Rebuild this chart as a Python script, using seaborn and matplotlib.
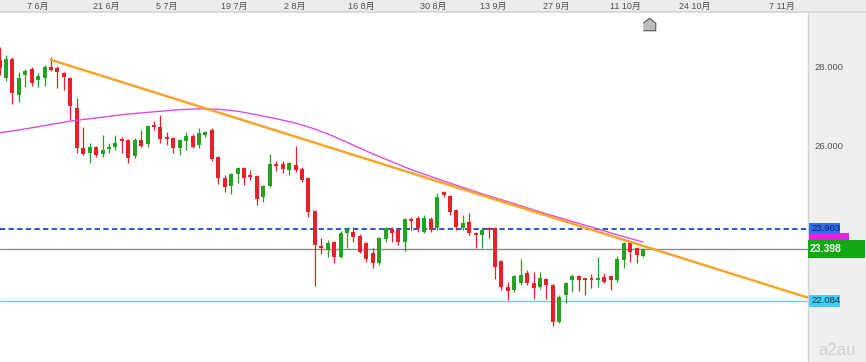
import numpy as np
import pandas as pd
import matplotlib
matplotlib.use("Agg")
import matplotlib.pyplot as plt
import matplotlib.transforms as mtransforms
from matplotlib.patches import Rectangle
import seaborn as sns

# daily candles (index 0 = first visible bar)
opens = [28.18, 27.72, 28.20, 27.29, 27.80, 27.95, 27.67, 27.72, 28.00, 27.97,
         27.85, 27.72, 26.96, 25.95, 25.82, 25.97, 25.80, 25.92, 25.97, 26.18,
         26.15, 25.75, 26.15, 26.05, 26.53, 26.48, 26.23, 26.20, 25.95, 26.13,
         26.25, 26.03, 26.28, 26.41, 25.72, 25.19, 24.99, 25.29, 25.44, 25.27,
         25.24, 24.71, 24.99, 25.54, 25.54, 25.39, 25.52, 25.42, 25.19, 24.35,
         23.47, 23.37, 23.57, 23.19, 23.80, 23.82, 23.72, 23.54, 23.29, 23.04,
         23.65, 23.90, 23.87, 23.57, 24.15, 24.18, 23.82, 24.15, 23.92, 24.84,
         24.73, 24.38, 23.92, 24.08, 23.80, 23.75, 23.92, 23.92, 23.09, 22.43,
         22.35, 22.53, 22.78, 22.53, 22.43, 22.63, 22.48, 21.54, 22.23, 22.61,
         22.71, 22.66, 22.66, 22.61, 22.68, 22.71, 22.61, 23.11, 23.54, 23.41,
         23.22]
highs = [28.50, 28.30, 28.25, 27.87, 27.95, 28.00, 27.85, 28.05, 28.25, 28.03,
         27.87, 27.75, 27.22, 26.48, 26.08, 26.00, 26.28, 26.08, 26.28, 26.23,
         26.18, 26.20, 26.41, 26.53, 26.63, 26.78, 26.35, 26.23, 26.18, 26.35,
         26.30, 26.46, 26.38, 26.46, 25.75, 25.27, 25.32, 25.47, 25.47, 25.39,
         25.27, 25.01, 25.80, 25.62, 25.62, 25.59, 26.00, 25.47, 25.22, 24.38,
         23.67, 23.62, 23.59, 23.85, 23.95, 23.95, 23.77, 23.57, 23.41, 23.70,
         23.95, 23.95, 23.92, 24.18, 24.20, 24.23, 24.25, 24.20, 24.81, 24.86,
         24.76, 24.41, 24.25, 24.30, 23.82, 23.95, 23.95, 23.95, 23.11, 22.56,
         22.73, 23.14, 22.86, 22.81, 22.81, 22.66, 22.51, 22.23, 22.56, 22.76,
         22.73, 22.66, 22.76, 23.19, 22.78, 22.73, 23.22, 23.57, 23.54, 23.44,
         23.41]
lows = [27.80, 27.65, 27.06, 27.11, 27.49, 27.52, 27.49, 27.52, 27.90, 27.47,
        27.42, 26.66, 25.82, 25.77, 25.57, 25.72, 25.72, 25.82, 25.90, 25.82,
        25.57, 25.70, 25.97, 25.97, 26.41, 26.08, 26.03, 25.82, 25.77, 25.90,
        25.95, 25.95, 26.23, 25.62, 25.04, 24.84, 24.78, 25.06, 25.01, 25.14,
        24.51, 24.58, 24.96, 25.37, 25.32, 25.27, 25.34, 25.09, 24.20, 22.46,
        23.27, 23.19, 23.04, 23.17, 23.41, 23.57, 23.29, 23.06, 22.91, 22.99,
        23.57, 23.57, 23.49, 23.34, 23.87, 23.82, 23.80, 23.82, 23.87, 24.71,
        24.25, 23.87, 23.87, 23.75, 23.41, 23.41, 23.67, 22.63, 22.35, 22.10,
        22.30, 22.48, 22.48, 22.13, 22.38, 22.13, 21.44, 21.52, 22.03, 22.30,
        22.33, 22.23, 22.41, 22.43, 22.53, 22.35, 22.56, 22.91, 23.06, 23.04,
        23.19]
closes = [27.97, 28.20, 27.35, 27.72, 27.90, 27.60, 27.77, 28.00, 27.92, 27.87,
          27.75, 27.01, 25.95, 25.80, 25.97, 25.77, 25.90, 25.97, 26.08, 26.13,
          25.70, 26.15, 26.00, 26.51, 26.48, 26.18, 26.18, 25.95, 26.15, 26.25,
          25.97, 26.33, 26.35, 25.67, 25.19, 24.96, 25.29, 25.44, 25.19, 25.22,
          24.66, 24.99, 25.54, 25.49, 25.42, 25.57, 25.39, 25.14, 24.33, 23.49,
          23.41, 23.54, 23.19, 23.80, 23.87, 23.70, 23.32, 23.14, 23.04, 23.67,
          23.92, 23.80, 23.57, 24.15, 24.10, 23.92, 24.18, 23.87, 24.71, 24.76,
          24.33, 23.95, 24.05, 23.80, 23.75, 23.87, 23.87, 22.94, 22.43, 22.33,
          22.71, 22.73, 22.53, 22.41, 22.66, 22.48, 21.54, 22.18, 22.53, 22.71,
          22.61, 22.61, 22.61, 22.66, 22.56, 22.61, 23.14, 23.54, 23.32, 23.24,
          23.40]

# moving average
ma_idx = [0, 5, 11, 16, 20, 25, 28, 31, 34, 37, 40, 43, 46, 49, 52, 55, 58,
          61, 64, 67, 70, 75, 80, 84, 89, 93, 96, 100]
ma_val = [26.33, 26.46, 26.63, 26.73, 26.81, 26.88, 26.92, 26.94, 26.93, 26.88,
          26.79, 26.69, 26.58, 26.43, 26.24, 26.02, 25.80, 25.60, 25.40, 25.23,
          25.06, 24.79, 24.54, 24.33, 24.09, 23.90, 23.75, 23.57]

# falling trend line
trend_idx = [8, 125.65]
trend_val = [28.18, 22.16]

# horizontal levels
level_resist = 23.903
level_last = 23.398
level_support = 22.084
ma_tag_level = 23.72

date_labels = ["7 6月", "21 6月", "5 7月", "19 7月", "2 8月", "16 8月", "30 8月",
               "13 9月", "27 9月", "11 10月", "24 10月", "7 11月"]
date_pos = [6.0, 16.6, 26.0, 36.4, 45.9, 56.3, 67.4, 76.7, 86.5, 97.2, 108.1, 121.6]

price_ticks = [26, 28]

RED = "#e8202a"
GREEN = "#22a322"
ORANGE = "#f4a52a"
MAGENTA = "#d84fe0"
BLUE = "#2457d0"

sns.set_theme(style="white")
plt.rcParams["font.family"] = ["Liberation Sans", "Noto Sans CJK SC", "DejaVu Sans"]
plt.rcParams["lines.scale_dashes"] = False

W, H = 866, 362
fig = plt.figure(figsize=(W / 100, H / 100), dpi=100)
fig.patch.set_facecolor("white")

# right price panel (behind the axes)
fig.patches.append(Rectangle((808 / W, 0), 58 / W, 350 / H, transform=fig.transFigure,
                             facecolor="#efefef", edgecolor="none", zorder=-5))

ax = fig.add_axes([0, 0, 808 / W, 350 / H])
ax.set_facecolor("white")
x0, x1 = 0.0675, 125.65
ax.set_xlim(x0, x1)
ax.set_ylim(20.532, 29.392)

df = pd.DataFrame({"o": opens, "h": highs, "l": lows, "c": closes})
df["i"] = np.arange(len(df))
colors = np.where(df.c >= df.o, GREEN, RED)
ax.vlines(df.i, df.l, df.h, colors=colors, lw=0.9, zorder=3)
ax.bar(df.i, (df.c - df.o).abs().clip(lower=0.04), bottom=np.minimum(df.o, df.c),
       width=0.62, color=colors, linewidth=0, zorder=4)

ax.axhline(level_resist, color=BLUE, lw=1.4, ls=(0, (3.8, 2.4)), zorder=2)
ax.axhline(level_last, color="#8a8a8a", lw=1.0, zorder=2)
ax.axhline(level_support, color="#5fd3e3", lw=1.0, zorder=2)

sns.lineplot(x=ma_idx, y=ma_val, ax=ax, color=MAGENTA, lw=1.0, zorder=5)
sns.lineplot(x=trend_idx, y=trend_val, ax=ax, color=ORANGE, lw=1.8, zorder=6)

# axis styling
for s in ["top", "left", "bottom"]:
    ax.spines[s].set_visible(False)
ax.spines["right"].set_color("#d4d4d4")
ax.spines["right"].set_linewidth(1.0)
ax.set_xticks([])
ax.yaxis.tick_right()
ax.set_yticks(price_ticks)
ax.set_yticklabels([f"{v:.3f}" for v in price_ticks])
ax.tick_params(axis="y", length=0, pad=5, labelsize=6.8, labelcolor="#505050")
ax.set_xlabel("")
ax.set_ylabel("")

# price tags on the right
tr = mtransforms.blended_transform_factory(ax.transAxes, ax.transData)
ppx = (29.392 - 20.532) / 350  # price per pixel
apx = 1 / 808  # axes fraction per pixel


def tag(price, text, bg, fg, wpx, hpx, bold=False, size=6.8, x_off=1):
    ax.add_patch(Rectangle((1 + x_off * apx, price - hpx / 2 * ppx), wpx * apx, hpx * ppx,
                           transform=tr, facecolor=bg, edgecolor="none", clip_on=False, zorder=10))
    if text:
        ax.text(1 + (x_off + 2) * apx, price, text, transform=tr, color=fg, fontsize=size,
                fontweight="bold" if bold else "normal", va="center", ha="left",
                clip_on=False, zorder=11)


tag(level_resist, "23.903", "#2f6ff0", "#0a1a60", 31, 12)
tag(ma_tag_level, "", "#e024e0", "#e024e0", 40, 7)
tag(level_last, "23.398", "#13a813", "white", 57, 18, bold=True, size=7.5, x_off=0)
tag(level_support, "22.084", "#3fd0f2", "#0d3050", 31, 12)

# current bar marker
ax.plot([len(df)], [0.965], marker=[(-1, -1), (1, -1), (1, 0.2), (0, 1), (-1, 0.2)],
        markersize=9, mfc="#bdbdbd", mec="#555555", mew=0.8, clip_on=False, zorder=12,
        transform=mtransforms.blended_transform_factory(ax.transData, ax.transAxes))

# date header
hx = fig.add_axes([0, 350 / H, 1, 12 / H])
hx.set_facecolor("#ececec")
hx.set_xlim(x0, x0 + (x1 - x0) * W / 808)
hx.set_ylim(0, 1)
hx.set_xticks([])
hx.set_yticks([])
for s in ["top", "left", "right"]:
    hx.spines[s].set_visible(False)
hx.spines["bottom"].set_color("#d6d6d6")
for lbl, pos in zip(date_labels, date_pos):
    hx.text(pos, 0.5, lbl, ha="center", va="center", fontsize=6.5, color="#505050")

fig.text(0.945, 0.01, "a2au", fontsize=12, color="#cfcfcf", ha="left", va="bottom")

fig.savefig("out.png", dpi=100)
